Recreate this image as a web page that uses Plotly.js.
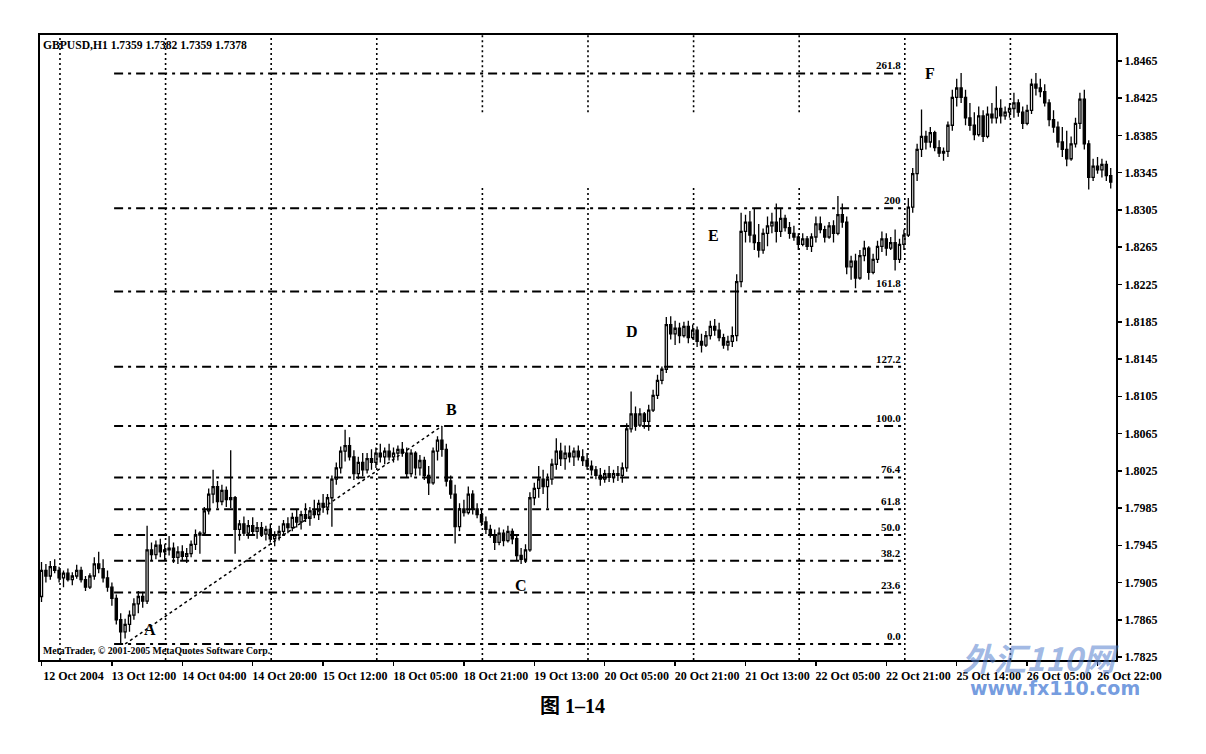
<!DOCTYPE html>
<html><head><meta charset="utf-8">
<script src="https://cdn.plot.ly/plotly-3.0.1.min.js"></script>
<style>html,body{margin:0;padding:0;background:#fff;} #chart{width:1206px;height:754px;}</style>
</head><body><div id="chart"></div>
<script>
// ---- data: GBPUSD H1 bars (bar index 0 = 12 Oct 2004 20:00) ----
const openP = [
1.7890,1.7918,1.7912,1.7922,1.7918,1.7910,1.7915,1.7908,1.7912,1.7918,
1.7908,1.7900,1.7912,1.7925,1.7920,1.7910,1.7900,1.7888,1.7865,1.7852,
1.7860,1.7870,1.7882,1.7890,1.7885,1.7940,1.7935,1.7945,1.7938,1.7940,
1.7942,1.7932,1.7938,1.7933,1.7936,1.7946,1.7956,1.7958,1.7982,1.8000,
1.8008,1.7992,1.8004,1.7994,1.7996,1.7962,1.7968,1.7958,1.7966,1.7960,
1.7964,1.7957,1.7962,1.7952,1.7956,1.7960,1.7968,1.7964,1.7975,1.7970,
1.7978,1.7974,1.7982,1.7978,1.7990,1.7986,1.7996,1.8016,1.8028,1.8046,
1.8052,1.8040,1.8022,1.8034,1.8026,1.8038,1.8034,1.8044,1.8040,1.8046,
1.8040,1.8044,1.8048,1.8044,1.8022,1.8044,1.8028,1.8036,1.8020,1.8012,
1.8046,1.8058,1.8048,1.8014,1.8000,1.7965,1.7984,1.7980,1.8000,1.7984,
1.7978,1.7970,1.7962,1.7956,1.7948,1.7958,1.7950,1.7960,1.7952,1.7934,
1.7930,1.7940,1.7996,1.8006,1.8016,1.8008,1.8016,1.8032,1.8046,1.8038,
1.8044,1.8040,1.8046,1.8040,1.8036,1.8030,1.8026,1.8020,1.8016,1.8022,
1.8018,1.8022,1.8020,1.8028,1.8070,1.8086,1.8074,1.8086,1.8078,1.8090,
1.8106,1.8122,1.8134,1.8182,1.8172,1.8178,1.8170,1.8180,1.8168,1.8176,
1.8164,1.8160,1.8170,1.8180,1.8176,1.8168,1.8160,1.8164,1.8170,1.8228,
1.8282,1.8292,1.8278,1.8270,1.8262,1.8280,1.8288,1.8292,1.8282,1.8296,
1.8286,1.8280,1.8276,1.8268,1.8274,1.8266,1.8276,1.8290,1.8284,1.8276,
1.8288,1.8280,1.8300,1.8292,1.8244,1.8250,1.8232,1.8256,1.8264,1.8238,
1.8252,1.8266,1.8274,1.8264,1.8270,1.8252,1.8268,1.8278,1.8308,1.8344,
1.8370,1.8384,1.8378,1.8388,1.8372,1.8366,1.8368,1.8396,1.8426,1.8436,
1.8426,1.8404,1.8396,1.8386,1.8406,1.8384,1.8408,1.8404,1.8414,1.8406,
1.8410,1.8414,1.8420,1.8410,1.8398,1.8412,1.8440,1.8436,1.8432,1.8420,
1.8402,1.8394,1.8378,1.8370,1.8360,1.8376,1.8398,1.8424,1.8376,1.8340,
1.8352,1.8348,1.8354,1.8342];
const highP = [
1.7927,1.7925,1.7928,1.7930,1.7922,1.7918,1.7920,1.7916,1.7924,1.7922,
1.7912,1.7915,1.7932,1.7938,1.7930,1.7918,1.7905,1.7892,1.7872,1.7866,
1.7875,1.7888,1.7896,1.7895,1.7966,1.7948,1.7950,1.7952,1.7946,1.7955,
1.7948,1.7944,1.7945,1.7942,1.7950,1.7962,1.7960,1.7986,1.8006,1.8026,
1.8014,1.8010,1.8008,1.8047,1.7998,1.7972,1.7976,1.7972,1.7975,1.7970,
1.7970,1.7966,1.7968,1.7960,1.7966,1.7972,1.7975,1.7980,1.7984,1.7982,
1.7990,1.7986,1.7994,1.7994,1.8000,1.8000,1.8020,1.8034,1.8051,1.8069,
1.8061,1.8047,1.8040,1.8044,1.8044,1.8048,1.8050,1.8054,1.8050,1.8054,
1.8050,1.8052,1.8056,1.8050,1.8048,1.8046,1.8042,1.8040,1.8030,1.8050,
1.8062,1.8073,1.8054,1.8020,1.8010,1.7990,1.7994,1.8008,1.8004,1.7990,
1.7984,1.7976,1.7967,1.7962,1.7964,1.7962,1.7966,1.7963,1.7956,1.7942,
1.7946,1.8002,1.8012,1.8030,1.8026,1.8022,1.8038,1.8060,1.8055,1.8052,
1.8052,1.8050,1.8052,1.8048,1.8044,1.8036,1.8030,1.8028,1.8026,1.8030,
1.8026,1.8030,1.8034,1.8076,1.8110,1.8094,1.8092,1.8088,1.8096,1.8112,
1.8128,1.8137,1.8190,1.8191,1.8186,1.8184,1.8185,1.8186,1.8182,1.8180,
1.8172,1.8175,1.8186,1.8188,1.8184,1.8172,1.8170,1.8180,1.8236,1.8302,
1.8300,1.8304,1.8306,1.8290,1.8285,1.8298,1.8302,1.8312,1.8306,1.8300,
1.8292,1.8288,1.8280,1.8280,1.8277,1.8280,1.8298,1.8298,1.8288,1.8292,
1.8294,1.8320,1.8312,1.8298,1.8256,1.8258,1.8262,1.8272,1.8266,1.8258,
1.8272,1.8282,1.8280,1.8276,1.8284,1.8274,1.8284,1.8318,1.8350,1.8376,
1.8413,1.8390,1.8394,1.8390,1.8380,1.8372,1.8400,1.8434,1.8446,1.8452,
1.8434,1.8420,1.8410,1.8416,1.8412,1.8416,1.8420,1.8438,1.8424,1.8416,
1.8420,1.8431,1.8424,1.8416,1.8418,1.8446,1.8452,1.8446,1.8440,1.8424,
1.8412,1.8400,1.8394,1.8390,1.8384,1.8404,1.8431,1.8434,1.8380,1.8360,
1.8362,1.8360,1.8358,1.8350];
const lowP = [
1.7884,1.7905,1.7908,1.7915,1.7905,1.7900,1.7906,1.7902,1.7909,1.7905,
1.7896,1.7898,1.7908,1.7915,1.7905,1.7895,1.7880,1.7860,1.7839,1.7845,
1.7852,1.7865,1.7872,1.7878,1.7882,1.7928,1.7930,1.7932,1.7928,1.7934,
1.7926,1.7925,1.7929,1.7926,1.7932,1.7940,1.7936,1.7955,1.7978,1.7990,
1.7985,1.7988,1.7986,1.7985,1.7936,1.7950,1.7955,1.7952,1.7956,1.7952,
1.7954,1.7950,1.7948,1.7944,1.7950,1.7955,1.7958,1.7960,1.7964,1.7962,
1.7970,1.7966,1.7974,1.7972,1.7980,1.7978,1.7965,1.8010,1.8022,1.8035,
1.8036,1.8015,1.8016,1.8019,1.8022,1.8026,1.8028,1.8034,1.8032,1.8036,
1.8034,1.8036,1.8040,1.8018,1.8018,1.8020,1.8020,1.8015,1.7999,1.8010,
1.8036,1.8040,1.8008,1.7995,1.7947,1.7960,1.7976,1.7978,1.7978,1.7974,
1.7966,1.7957,1.7953,1.7940,1.7945,1.7944,1.7948,1.7946,1.7929,1.7925,
1.7926,1.7938,1.7988,1.7996,1.8000,1.7985,1.8010,1.8026,1.8030,1.8026,
1.8034,1.8030,1.8036,1.8030,1.8026,1.8020,1.8016,1.8009,1.8012,1.8013,
1.8012,1.8014,1.8012,1.8024,1.8066,1.8068,1.8072,1.8070,1.8068,1.8088,
1.8102,1.8118,1.8130,1.8166,1.8160,1.8162,1.8168,1.8162,1.8166,1.8158,
1.8152,1.8158,1.8166,1.8170,1.8164,1.8156,1.8154,1.8158,1.8164,1.8222,
1.8270,1.8270,1.8262,1.8254,1.8258,1.8266,1.8280,1.8270,1.8276,1.8282,
1.8274,1.8272,1.8262,1.8266,1.8262,1.8260,1.8270,1.8280,1.8270,1.8274,
1.8270,1.8278,1.8286,1.8236,1.8230,1.8221,1.8230,1.8250,1.8230,1.8236,
1.8248,1.8260,1.8256,1.8262,1.8240,1.8248,1.8262,1.8276,1.8302,1.8336,
1.8362,1.8370,1.8372,1.8368,1.8362,1.8358,1.8362,1.8390,1.8416,1.8420,
1.8396,1.8390,1.8380,1.8384,1.8378,1.8382,1.8398,1.8398,1.8398,1.8402,
1.8404,1.8404,1.8405,1.8392,1.8396,1.8408,1.8428,1.8426,1.8416,1.8395,
1.8388,1.8372,1.8362,1.8352,1.8358,1.8372,1.8392,1.8370,1.8327,1.8336,
1.8344,1.8340,1.8336,1.8328];
const closeP = [
1.7918,1.7912,1.7922,1.7918,1.7910,1.7915,1.7908,1.7912,1.7918,1.7908,
1.7900,1.7912,1.7925,1.7920,1.7910,1.7900,1.7888,1.7865,1.7852,1.7860,
1.7870,1.7882,1.7890,1.7885,1.7940,1.7935,1.7945,1.7938,1.7940,1.7942,
1.7932,1.7938,1.7933,1.7936,1.7946,1.7956,1.7958,1.7982,1.8000,1.8008,
1.7992,1.8004,1.7994,1.7996,1.7962,1.7968,1.7958,1.7966,1.7960,1.7964,
1.7957,1.7962,1.7952,1.7956,1.7960,1.7968,1.7964,1.7975,1.7970,1.7978,
1.7974,1.7982,1.7978,1.7990,1.7986,1.7996,1.8016,1.8028,1.8046,1.8052,
1.8040,1.8022,1.8034,1.8026,1.8038,1.8034,1.8044,1.8040,1.8046,1.8040,
1.8044,1.8048,1.8044,1.8022,1.8044,1.8028,1.8036,1.8020,1.8012,1.8046,
1.8058,1.8048,1.8014,1.8000,1.7965,1.7984,1.7980,1.8000,1.7984,1.7978,
1.7970,1.7962,1.7956,1.7948,1.7958,1.7950,1.7960,1.7952,1.7934,1.7930,
1.7940,1.7996,1.8006,1.8016,1.8008,1.8016,1.8032,1.8046,1.8038,1.8044,
1.8040,1.8046,1.8040,1.8036,1.8030,1.8026,1.8020,1.8016,1.8022,1.8018,
1.8022,1.8020,1.8028,1.8070,1.8086,1.8074,1.8086,1.8078,1.8090,1.8106,
1.8122,1.8134,1.8182,1.8172,1.8178,1.8170,1.8180,1.8168,1.8176,1.8164,
1.8160,1.8170,1.8180,1.8176,1.8168,1.8160,1.8164,1.8170,1.8228,1.8282,
1.8292,1.8278,1.8270,1.8262,1.8280,1.8288,1.8292,1.8282,1.8296,1.8286,
1.8280,1.8276,1.8268,1.8274,1.8266,1.8276,1.8290,1.8284,1.8276,1.8288,
1.8280,1.8300,1.8292,1.8244,1.8250,1.8232,1.8256,1.8264,1.8238,1.8252,
1.8266,1.8274,1.8264,1.8270,1.8252,1.8268,1.8278,1.8308,1.8344,1.8370,
1.8384,1.8378,1.8388,1.8372,1.8366,1.8368,1.8396,1.8426,1.8436,1.8426,
1.8404,1.8396,1.8386,1.8406,1.8384,1.8408,1.8404,1.8414,1.8406,1.8410,
1.8414,1.8420,1.8410,1.8398,1.8412,1.8440,1.8436,1.8432,1.8420,1.8402,
1.8394,1.8378,1.8370,1.8360,1.8376,1.8398,1.8424,1.8376,1.8340,1.8352,
1.8348,1.8354,1.8342,1.8335];

const tickBars = [0,16,32,48,64,80,96,112,128,144,160,176,192,208,224,240];
const tickLabels = ['12 Oct 2004','13 Oct 12:00','14 Oct 04:00','14 Oct 20:00','15 Oct 12:00',
  '18 Oct 05:00','18 Oct 21:00','19 Oct 13:00','20 Oct 05:00','20 Oct 21:00','21 Oct 13:00',
  '22 Oct 05:00','22 Oct 21:00','25 Oct 14:00','26 Oct 05:00','26 Oct 22:00'];
const priceTicks = [1.7825,1.7865,1.7905,1.7945,1.7985,1.8025,1.8065,1.8105,1.8145,
  1.8185,1.8225,1.8265,1.8305,1.8345,1.8385,1.8425,1.8465];
const fibA = 1.7839, fibB = 1.8073;
const fibRatios = [0, 23.6, 38.2, 50, 61.8, 76.4, 100, 127.2, 161.8, 200, 261.8];
const fibLabels = ['0.0','23.6','38.2','50.0','61.8','76.4','100.0','127.2','161.8','200','261.8'];
const waveLabels = ['A','B','C','D','E','F'];

// ---- layout helpers ----
const xIdx = closeP.map((_, i) => i);
const X0 = -0.34, X1 = 244.2, Y0 = 1.78218, Y1 = 1.84929;
const F = 'Liberation Serif, Times New Roman, serif';

const shapes = [];
// vertical dotted grid
for (let k = 0; k < 10; k++) {
  const xv = 4.2 + 24 * k;
  const st = {type:'line', xref:'x', yref:'y', x0:xv, x1:xv, line:{color:'#000', width:1.6, dash:'2px,3px'}};
  if (k >= 4 && k <= 7) {
    shapes.push(Object.assign({}, st, {y0:Y0, y1:1.8329}));
    shapes.push(Object.assign({}, st, {y0:1.8410, y1:Y1}));
  } else {
    shapes.push(Object.assign({}, st, {y0:Y0, y1:Y1}));
  }
}
// fibonacci levels
const fibPrices = fibRatios.map(r => fibA + (fibB - fibA) * r / 100);
fibPrices.forEach(p => shapes.push({type:'line', xref:'x', yref:'y', x0:16.5, x1:195.8, y0:p, y1:p,
  line:{color:'#000', width:2, dash:'9px,5px,3px,5px'}}));
// fib trend line A-B
shapes.push({type:'line', xref:'x', yref:'y', x0:19, y0:fibA, x1:91, y1:fibB,
  line:{color:'#000', width:1.5, dash:'3px,3px'}});

const annotations = [];
fibPrices.forEach((p, j) => annotations.push({x:195.8, y:p, xref:'x', yref:'y', text:fibLabels[j],
  showarrow:false, xanchor:'right', yanchor:'bottom', yshift:0,
  font:{family:F, size:11, color:'#000'}}));
const wavePos = [[24.7,1.7855],[93.1,1.8091],[109,1.7902],[134.2,1.8174],[152.8,1.8278],[201.9,1.8452]];
waveLabels.forEach((t, j) => annotations.push({x:wavePos[j][0], y:wavePos[j][1], xref:'x', yref:'y', text:t,
  showarrow:false, xanchor:'center', yanchor:'middle', font:{family:F, size:16, color:'#000', weight:'bold'}}));
annotations.push({x:0, y:1, xref:'paper', yref:'paper', xanchor:'left', yanchor:'top', xshift:1, yshift:-2,
  text:'GBPUSD,H1 1.7359 1.7382 1.7359 1.7378', showarrow:false, font:{family:F, size:11.6, color:'#000', weight:'bold'}});
annotations.push({x:0, y:0, xref:'paper', yref:'paper', xanchor:'left', yanchor:'bottom', xshift:1, yshift:2,
  text:'MetaTrader, © 2001-2005 MetaQuotes Software Corp.', showarrow:false, font:{family:F, size:9.8, color:'#000', weight:'bold'}});
annotations.push({x:0.495, y:-0.0736, xref:'paper', yref:'paper', xanchor:'center', yanchor:'middle', text:'图 1–14', showarrow:false,
  font:{family:'Liberation Serif, Noto Sans CJK SC', size:20, color:'#000', weight:'bold'}});
annotations.push({x:0.9294, y:0.005, xref:'paper', yref:'paper', xanchor:'center', yanchor:'middle', text:'外汇110网', showarrow:false,
  font:{family:'Noto Sans CJK SC', size:32, color:'rgba(80,125,205,0.55)', weight:'bold', style:'italic'}});
annotations.push({x:0.9433, y:-0.0448, xref:'paper', yref:'paper', xanchor:'center', yanchor:'middle', text:'www.fx110.com', showarrow:false,
  font:{family:'DejaVu Sans', size:19, color:'rgba(80,130,215,0.8)'}});

const trace = {
  type:'candlestick', x:xIdx, open:openP, high:highP, low:lowP, close:closeP,
  increasing:{line:{color:'#000', width:1.3}, fillcolor:'#fff'},
  decreasing:{line:{color:'#000', width:1.3}, fillcolor:'#000'},
  whiskerwidth:0, hoverinfo:'skip'
};

const layout = {
  width:1206, height:754, margin:{l:40, r:90, t:35, b:94},
  paper_bgcolor:'#fff', plot_bgcolor:'#fff', showlegend:false,
  font:{family:F, size:11, color:'#000', weight:'bold'},
  xaxis:{range:[X0, X1], tickmode:'array', tickvals:tickBars, ticktext:tickLabels,
    ticks:'outside', ticklen:4, tickcolor:'#000', tickwidth:1.5, ticklabelshift:32,
    showgrid:false, zeroline:false, showline:true, linecolor:'#000', linewidth:2, mirror:true,
    rangeslider:{visible:false}, fixedrange:true,
    tickfont:{family:F, size:12, color:'#000', weight:'bold'}},
  yaxis:{range:[Y0, Y1], side:'right', tickmode:'array', tickvals:priceTicks,
    ticktext:priceTicks.map(v => v.toFixed(4)),
    ticks:'outside', ticklen:4, tickcolor:'#000', tickwidth:1.5,
    showgrid:false, zeroline:false, showline:true, linecolor:'#000', linewidth:2, mirror:true, fixedrange:true,
    tickfont:{family:F, size:12, color:'#000', weight:'bold'}},
  shapes:shapes, annotations:annotations
};

Plotly.newPlot('chart', [trace], layout, {displayModeBar:false, staticPlot:true});
</script></body></html>
